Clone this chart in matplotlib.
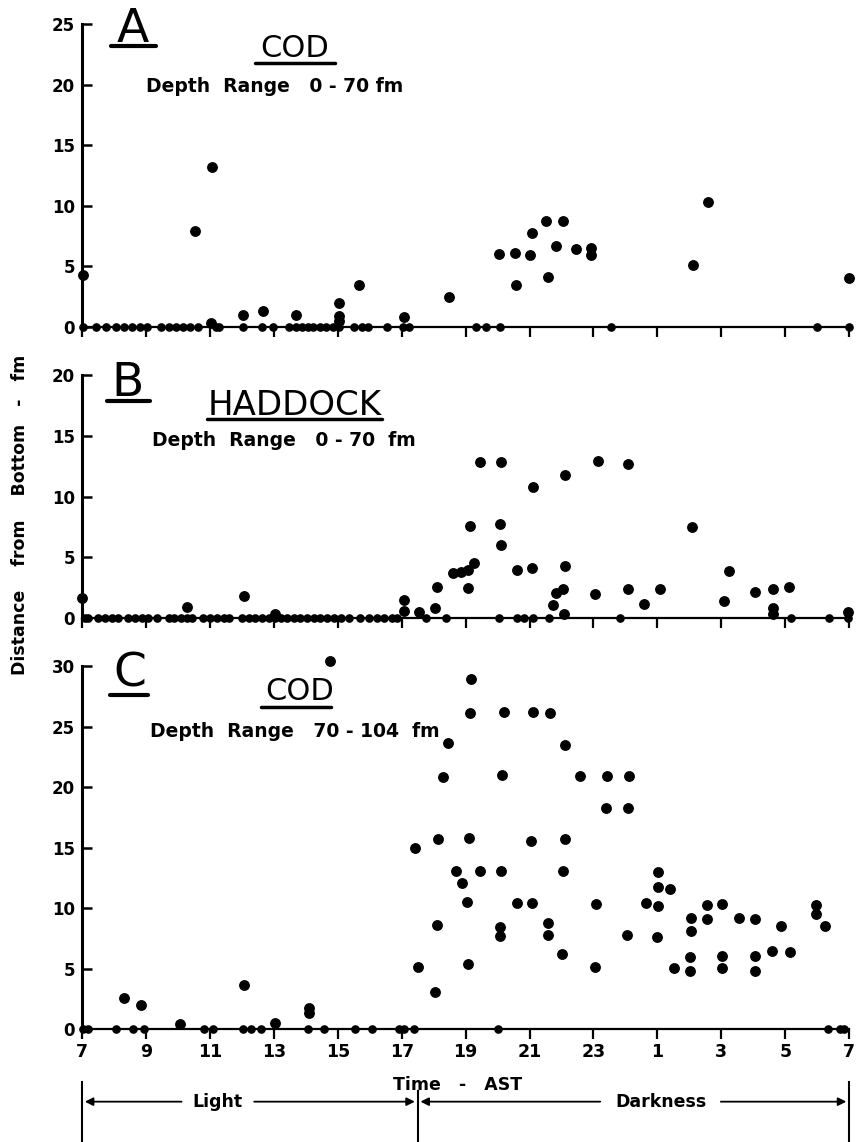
import matplotlib
matplotlib.use("Agg")
import matplotlib.pyplot as plt

plt.rcParams['font.family'] = ['DejaVu Sans']

# panel A: cod, depth range 0-70 fm  (hour of day, 24+ = after midnight)
cod_a_hour = [7.03, 10.52, 11.06, 11.02, 12.05, 12.66, 13.68, 15.05, 15.05, 15.05, 15.68, 17.08,
              18.47, 20.05, 20.54, 20.57, 21.01, 21.07, 21.51, 21.57, 21.82, 22.05, 22.47,
              22.92, 22.92, 26.1, 26.6, 31.0]
cod_a_dist = [4.25, 7.9, 13.2, 0.3, 1.0, 1.33, 1.0, 2.0, 0.9, 0.5, 3.5, 0.8,
              2.44, 6.06, 6.14, 3.5, 5.97, 7.75, 8.78, 4.1, 6.7, 8.78, 6.47,
              6.55, 5.9, 5.08, 10.3, 4.05]
cod_a_zero = [7.03, 7.45, 7.76, 8.05, 8.3, 8.57, 8.8, 9.03, 9.48, 9.72, 9.93, 10.16, 10.39,
              10.63, 11.18, 11.3, 12.05, 12.63, 12.97, 13.49, 13.68, 13.88, 14.06, 14.24,
              14.43, 14.64, 14.84, 15.05, 15.52, 15.76, 15.94, 16.53, 17.03, 17.22, 19.34,
              19.63, 20.07, 23.54, 30.0, 31.0]

# panel B: haddock, depth range 0-70 fm
had_hour = [7.0, 10.28, 12.06, 13.05, 17.07, 17.07, 17.54, 18.04, 18.1, 18.6, 18.85, 19.08,
            19.27, 19.09, 19.13, 19.45, 20.12, 20.08, 20.12, 20.6, 21.08, 21.12, 21.74,
            21.83, 22.04, 22.11, 22.12, 22.09, 23.06, 23.13, 24.07, 24.09, 24.58, 25.07,
            26.08, 27.07, 27.23, 28.04, 28.62, 28.62, 28.62, 29.11, 30.97]
had_dist = [1.62, 0.88, 1.81, 0.3, 1.45, 0.6, 0.5, 0.8, 2.52, 3.68, 3.76, 3.95,
            4.55, 2.44, 7.6, 12.87, 12.87, 7.74, 6.0, 3.95, 4.09, 10.8, 1.07,
            2.08, 2.36, 4.28, 11.8, 0.3, 1.98, 12.9, 2.39, 12.7, 1.12, 2.39,
            7.5, 1.43, 3.87, 2.17, 2.36, 0.8, 0.3, 2.58, 0.5]
had_zero = [7.09, 7.2, 7.49, 7.72, 7.93, 8.12, 8.45, 8.66, 8.87, 9.06, 9.34, 9.73, 9.89,
            10.1, 10.28, 10.44, 10.8, 11.01, 11.22, 11.43, 11.59, 12.01, 12.21, 12.42,
            12.63, 12.84, 13.05, 13.24, 13.42, 13.62, 13.83, 14.04, 14.25, 14.46, 14.67,
            14.88, 15.09, 15.35, 15.71, 15.97, 16.24, 16.44, 16.71, 16.87, 17.75, 18.4,
            20.05, 20.6, 20.84, 21.1, 21.6, 23.83, 29.19, 30.36, 30.97]

# panel C: cod, depth range 70-104 fm
cod_c_hour = [8.31, 8.86, 10.05, 12.08, 13.04, 14.1, 14.1, 14.76, 17.43, 17.5, 18.05, 18.1,
              18.13, 18.28, 18.46, 18.7, 18.9, 19.06, 19.07, 19.11, 19.14, 19.17, 19.45,
              20.07, 20.07, 20.1, 20.15, 20.2, 20.62, 21.06, 21.08, 21.11, 21.58, 21.58,
              21.63, 22.03, 22.05, 22.1, 22.1, 22.57, 23.05, 23.08, 23.4, 23.42, 24.04,
              24.09, 24.1, 24.64, 25.0, 25.03, 25.03, 25.03, 25.39, 25.52, 26.01, 26.01,
              26.04, 26.04, 26.54, 26.56, 27.01, 27.01, 27.03, 27.57, 28.05, 28.07, 28.07,
              28.59, 28.88, 29.16, 29.96, 29.96, 30.25]
cod_c_dist = [2.59, 1.98, 0.39, 3.64, 0.47, 1.7, 1.3, 30.4, 15.0, 5.15, 3.08, 8.6,
              15.7, 20.8, 23.6, 13.1, 12.1, 10.47, 5.35, 15.76, 26.1, 28.9, 13.1,
              8.46, 7.7, 13.1, 21.0, 26.2, 10.44, 15.5, 10.4, 26.2, 8.8, 7.8,
              26.1, 6.2, 13.1, 15.68, 23.5, 20.9, 5.15, 10.3, 18.3, 20.9, 7.77,
              18.25, 20.9, 10.4, 7.63, 13.0, 11.76, 10.2, 11.55, 5.07, 5.98, 4.82,
              9.15, 8.12, 9.07, 10.25, 6.06, 5.01, 10.33, 9.15, 9.09, 6.03, 4.79,
              6.47, 8.51, 6.34, 10.25, 9.5, 8.51]
cod_c_zero = [7.04, 7.2, 8.06, 8.6, 8.93, 10.83, 11.09, 12.03, 12.29, 12.6, 14.08, 14.57,
              15.54, 16.08, 16.91, 17.07, 17.38, 20.0, 30.35, 30.72, 30.85]

hour_ticks = [7, 9, 11, 13, 15, 17, 19, 21, 23, 25, 27, 29, 31]
hour_labels = ['7', '9', '11', '13', '15', '17', '19', '21', '23', '1', '3', '5', '7']
sunset = 17.5

fig = plt.figure(figsize=(8.59, 11.42), dpi=100)
left, width = 0.0955, 0.893
ax_a = fig.add_axes([left, 0.7137, width, 0.2653])
ax_b = fig.add_axes([left, 0.4588, width, 0.2128])
ax_c = fig.add_axes([left, 0.0989, width, 0.3179])


def setup(ax, top, hours, dists, zeros):
    ax.plot(hours, dists, 'o', color='black', ms=6.8, clip_on=False, zorder=3)
    ax.plot(zeros, [0] * len(zeros), 'o', color='black', ms=5.2, clip_on=False, zorder=3)
    ax.set_xlim(7, 31)
    ax.set_ylim(0, top)
    ax.set_yticks(range(0, top + 1, 5))
    ax.set_xticks(hour_ticks)
    ax.spines['top'].set_visible(False)
    ax.spines['right'].set_visible(False)
    ax.spines['left'].set_linewidth(2.2)
    ax.spines['bottom'].set_linewidth(1.6)
    ax.tick_params(axis='y', direction='in', length=7, width=1.8, pad=5, labelsize=12)
    ax.tick_params(axis='x', direction='out', length=7, width=1.6, pad=3, labelsize=12.5)
    for lab in ax.get_yticklabels():
        lab.set_fontweight('bold')


def title(ax, letter, lx, ly, ux, uy, name, nsize, nx, ny, nux, nuy, depth, dx, dy):
    ax.text(lx, ly, letter, fontsize=34, ha='center', va='baseline')
    ax.plot(ux, [uy, uy], color='black', lw=3, clip_on=False, solid_capstyle='round')
    ax.text(nx, ny, name, fontsize=nsize, ha='center', va='baseline')
    ax.plot(nux, [nuy, nuy], color='black', lw=2.5, clip_on=False, solid_capstyle='round')
    ax.text(dx, dy, depth, fontsize=13.5, fontweight='bold', ha='center', va='baseline')


setup(ax_a, 25, cod_a_hour, cod_a_dist, cod_a_zero)
setup(ax_b, 20, had_hour, had_dist, had_zero)
setup(ax_c, 30, cod_c_hour, cod_c_dist, cod_c_zero)
ax_a.set_xticklabels([])
ax_b.set_xticklabels([])
ax_c.set_xticklabels(hour_labels)
for lab in ax_c.get_xticklabels():
    lab.set_fontweight('bold')

title(ax_a, 'A', 8.6, 23.5, [7.9, 9.3], 23.2, 'COD', 22, 13.66, 22.3, [12.4, 14.9], 21.8,
      'Depth  Range   0 - 70 fm', 13.03, 19.4)
title(ax_b, 'B', 8.44, 18.3, [7.78, 9.13], 17.9, 'HADDOCK', 24.5, 13.65, 16.7,
      [10.92, 16.4], 16.4, 'Depth  Range   0 - 70  fm', 13.33, 14.2)
title(ax_c, 'C', 8.5, 28.3, [7.87, 9.06], 27.6, 'COD', 22, 13.8, 27.2, [12.6, 14.8], 26.6,
      'Depth  Range   70 - 104  fm', 13.67, 24.1)

fig.text(0.023, 0.549, 'Distance    from    Bottom   -   fm', rotation=90, ha='center',
         va='center', fontsize=12.5, fontweight='bold')
fig.text(0.533, 0.05, 'Time   -   AST', ha='center', va='center', fontsize=12.5,
         fontweight='bold')

# light / darkness bar
trans = ax_c.get_xaxis_transform()
bar_y = -0.2
for x0, y0 in [(7, -0.145), (sunset, -0.17), (31, -0.145)]:
    ax_c.plot([x0, x0], [y0, -0.36], color='black', lw=1.5, clip_on=False, transform=trans)
arrow = dict(arrowstyle='-|>', color='black', lw=1.3, mutation_scale=12)
ax_c.annotate('', xy=(7, bar_y), xytext=(10.2, bar_y), xycoords=trans, textcoords=trans,
              arrowprops=arrow)
ax_c.annotate('', xy=(sunset, bar_y), xytext=(12.3, bar_y), xycoords=trans,
              textcoords=trans, arrowprops=arrow)
ax_c.text(11.25, bar_y, 'Light', transform=trans, ha='center', va='center', fontsize=12.5,
          fontweight='bold')
ax_c.annotate('', xy=(sunset, bar_y), xytext=(23.3, bar_y), xycoords=trans,
              textcoords=trans, arrowprops=arrow)
ax_c.annotate('', xy=(31, bar_y), xytext=(26.9, bar_y), xycoords=trans, textcoords=trans,
              arrowprops=arrow)
ax_c.text(25.1, bar_y, 'Darkness', transform=trans, ha='center', va='center',
          fontsize=12.5, fontweight='bold')

fig.savefig('out.png', dpi=100)
